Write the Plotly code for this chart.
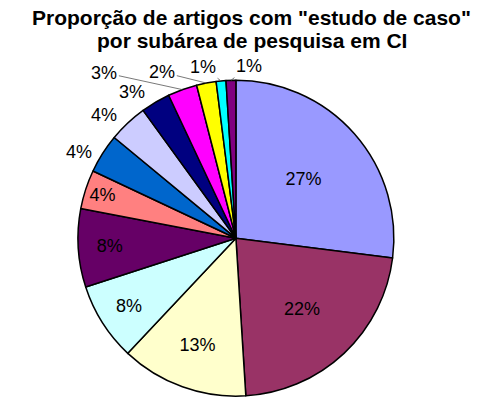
import math
import plotly.graph_objects as go

labels = ["A", "B", "C", "D", "E", "F", "G", "H", "I", "J", "K", "L", "M"]
values = [27, 22, 13, 8, 8, 4, 4, 4, 3, 3, 2, 1, 1]
colors = ["#9999FF", "#993366", "#FFFFCC", "#CCFFFF", "#660066", "#FF8080",
          "#0066CC", "#CCCCFF", "#000080", "#FF00FF", "#FFFF00", "#00FFFF", "#800080"]
title_lines = ["Proporção de artigos com \"estudo de caso\"", "por subárea de pesquisa em CI"]
n_inside = 6
# pixel offsets of the outside labels (label position relative to slice edge)
label_offsets = [(-24, -2), (-24, -8), (-24, -10), (-78, -17), (-44, -11), (-18, -14), (18, -14)]
leader = [False, False, False, True, True, True, True]

W, H = 503, 397
dom_x = [0.155, 0.783]
dom_y = [0.0, 0.8]
FONT = "Liberation Sans, Arial, sans-serif"

texts = [f"{v}%" if i < n_inside else "" for i, v in enumerate(values)]

fig = go.Figure(go.Pie(
    labels=labels,
    values=values,
    sort=False,
    direction="clockwise",
    rotation=0,
    marker=dict(colors=colors, line=dict(color="black", width=1.5)),
    text=texts,
    textinfo="text",
    textposition="inside",
    insidetextorientation="horizontal",
    textfont=dict(family=FONT, size=18, color="black"),
    domain=dict(x=dom_x, y=dom_y),
    hoverinfo="label+percent",
))

# pie geometry (same as plotly: circle fitted in domain, centered)
cx = (dom_x[0] + dom_x[1]) / 2 * W
cy = (1 - (dom_y[0] + dom_y[1]) / 2) * H
R = min((dom_x[1] - dom_x[0]) * W, (dom_y[1] - dom_y[0]) * H) / 2

total = sum(values)
cum = 0
annotations = []
for i, v in enumerate(values):
    mid = (cum + v / 2) / total * 2 * math.pi
    cum += v
    if i < n_inside:
        continue
    k = i - n_inside
    ex = cx + R * math.sin(mid)
    ey = cy - R * math.cos(mid)
    ax, ay = label_offsets[k]
    annotations.append(dict(
        x=ex / W, y=1 - ey / H, xref="paper", yref="paper",
        text=f"{v}%", showarrow=True, arrowhead=0, arrowwidth=0.8,
        arrowcolor="#555555" if leader[k] else "rgba(0,0,0,0)",
        ax=ax, ay=ay, standoff=0, startstandoff=0,
        font=dict(family=FONT, size=18, color="black"),
    ))

for j, line in enumerate(title_lines):
    annotations.append(dict(
        x=0.5, y=1 - (18 + 22 * j) / H, xref="paper", yref="paper",
        xanchor="center", yanchor="middle", showarrow=False,
        text=f"<b>{line}</b>",
        font=dict(family=FONT, size=21, color="black"),
    ))

fig.update_layout(
    width=W, height=H,
    margin=dict(l=0, r=0, t=0, b=0),
    paper_bgcolor="white",
    showlegend=False,
    annotations=annotations,
)

fig.write_html("out.html")
